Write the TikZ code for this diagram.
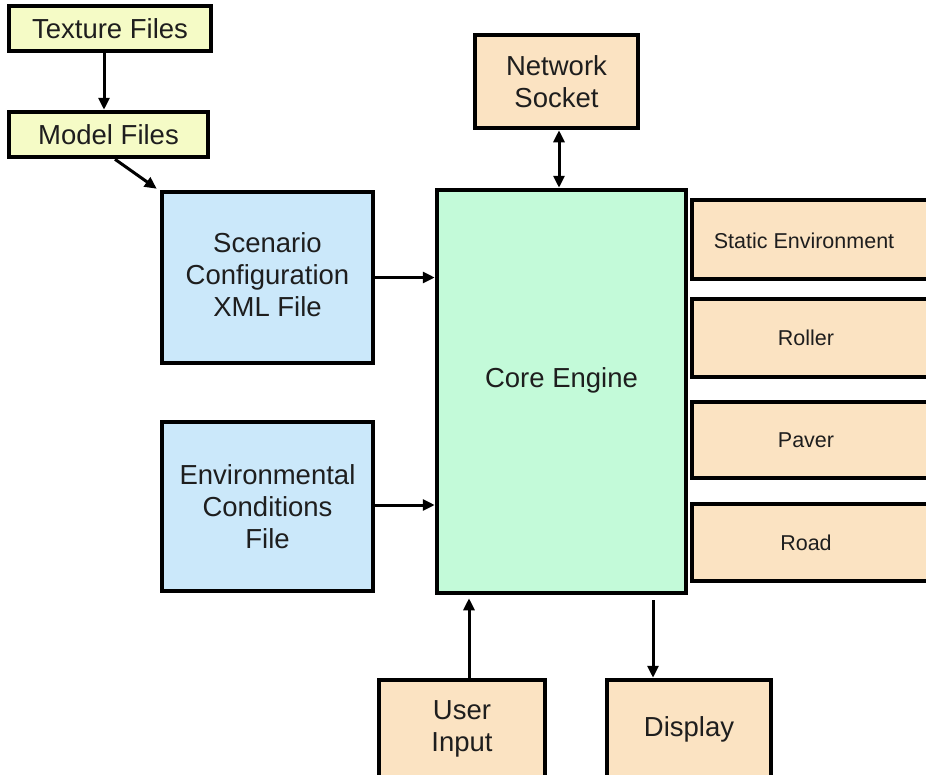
\documentclass[tikz,border=0pt]{standalone}
\usepackage{fontspec}
\setmainfont{Liberation Sans}
\usetikzlibrary{arrows.meta,calc}
\definecolor{yel}{HTML}{F5FBC6}
\definecolor{peach}{HTML}{FBE3C2}
\definecolor{blu}{HTML}{CBE8FA}
\definecolor{grn}{HTML}{C3FAD9}
\definecolor{ink}{HTML}{1E1E1E}
\tikzset{
  box/.style={draw=black, line width=4.5pt, inner sep=0pt, align=center, text=ink,
    font=\fontsize{27.5}{32}\selectfont},
  small/.style={font=\fontsize{21.5}{24}\selectfont},
  arr/.style={draw=black, line width=3pt, -{Triangle[length=12pt,width=11pt]}},
  darr/.style={draw=black, line width=3pt, {Triangle[length=12pt,width=11pt]}-{Triangle[length=12pt,width=11pt]}}
}
\begin{document}
\begin{tikzpicture}[x=1pt,y=-1pt]
\useasboundingbox (0,0) rectangle (926,774);
\clip (0,0) rectangle (926,774);
\fill[white] (0,0) rectangle (926,774);
% top-left files
\node[box, fill=yel, minimum width=202, minimum height=45] (tex) at (110,28.5) {Texture Files};
\node[box, fill=yel, minimum width=199, minimum height=45] (model) at (108.5,134.5) {Model Files};
% input files
\node[box, fill=blu, minimum width=211, minimum height=171,
  label={[box, draw=none, fill=none, yshift=3pt]center:Scenario\\Configuration\\XML File}] (scen) at (267.5,277.5) {};
\node[box, fill=blu, minimum width=211, minimum height=169] (env) at (267.5,506.5) {Environmental\\Conditions\\File};
% core
\node[box, fill=grn, minimum width=249, minimum height=403,
  label={[box, draw=none, fill=none, yshift=11pt]center:Core Engine}] (core) at (561.5,391.5) {};
% network
\node[box, fill=peach, minimum width=163, minimum height=93] (net) at (556.5,81.5) {Network\\Socket};
% right modules
\node[box, fill=peach, minimum width=256, minimum height=79, label={[small, text=ink, xshift=-16pt, yshift=-1pt]center:Static Environment}] (static) at (820,239.5) {};
\node[box, fill=peach, minimum width=256, minimum height=78, label={[small, text=ink, xshift=-14pt]center:Roller}] (roller) at (820,338) {};
\node[box, fill=peach, minimum width=256, minimum height=76, label={[small, text=ink, xshift=-14pt]center:Paver}] (paver) at (820,440) {};
\node[box, fill=peach, minimum width=256, minimum height=77, label={[small, text=ink, xshift=-14pt]center:Road}] (road) at (820,542.5) {};
% bottom
\node[box, fill=peach, minimum width=166, minimum height=98] (user) at (462,729) {User\\Input};
\node[box, fill=peach, minimum width=164, minimum height=98] (disp) at (689,729) {Display};
% connectors
\draw[arr] (104,0 |- tex.south) -- (104,0 |- model.north);
\draw[arr] (115,0 |- model.south) -- ($(scen.north west)+(-3,-1)$);
\draw[arr] (scen.east) -- (scen.east -| core.west);
\coordinate (envout) at (env.east |- 0,505);
\draw[arr] (envout) -- (envout -| core.west);
\draw[darr] (559,0 |- net.south) -- (559,0 |- core.north);
\draw[arr] (469,0 |- user.north) -- ($(469,0 |- core.south)+(0,3)$);
\draw[arr] ($(653,0 |- core.south)+(0,5)$) -- (653,0 |- disp.north);
\end{tikzpicture}
\end{document}
